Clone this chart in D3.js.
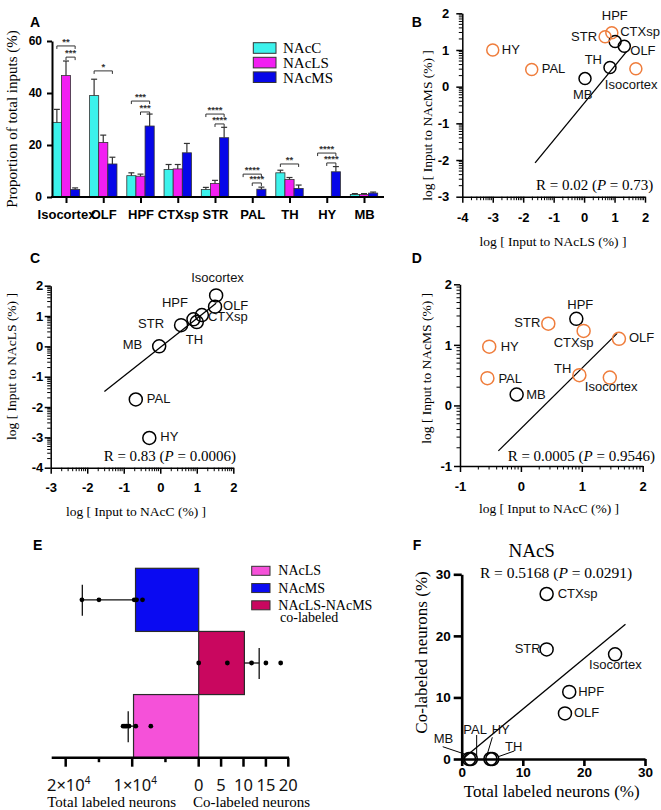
<!DOCTYPE html>
<html><head><meta charset="utf-8">
<script src="https://cdn.jsdelivr.net/npm/d3@7"></script>
<style>body{margin:0;background:#fff}</style>
</head><body>
<svg id="fig" width="661" height="810"></svg>
<script>
// ---------------- DATA ----------------
const regions = ["Isocortex","OLF","HPF","CTXsp","STR","PAL","TH","HY","MB"];
const seriesA = ["NAcC","NAcLS","NAcMS"];
const meanNAcC  = [28.7, 39.0, 8.2, 10.6, 2.9, 0.15, 9.3, 0.15, 1.0];
const errNAcC   = [5.0, 6.3, 1.1, 1.9, 0.8, 0, 1.0, 0, 0.3];
const meanNAcLS = [46.7, 21.0, 8.0, 10.8, 5.2, 0.05, 6.7, 0.05, 1.0];
const errNAcLS  = [5.6, 2.8, 0.8, 1.7, 1.2, 0, 0.8, 0, 0.3];
const meanNAcMS = [2.9, 12.7, 27.3, 17.0, 22.8, 3.0, 3.3, 9.7, 1.5];
const errNAcMS  = [0.6, 2.6, 4.6, 3.6, 4.0, 0.8, 1.3, 2.0, 0.4];

const sigRegion = ["Isocortex","Isocortex","OLF","HPF","HPF","STR","STR","PAL","PAL","TH","HY","HY"];
const sigFrom   = ["NAcC","NAcLS","NAcC","NAcC","NAcLS","NAcC","NAcLS","NAcC","NAcLS","NAcC","NAcC","NAcLS"];
const sigTo     = ["NAcMS","NAcMS","NAcMS","NAcMS","NAcMS","NAcMS","NAcMS","NAcMS","NAcMS","NAcMS","NAcMS","NAcMS"];
const sigLevel  = [58.1, 53.8, 48.5, 36.9, 32.7, 31.9, 28.1, 8.8, 5.4, 12.7, 16.9, 13.1];
const sigLabel  = ["**","***","*","***","***","****","****","****","****","**","****","****"];

// B: log NAcLS vs log NAcMS
const bLogLS = [1.70, 1.32, 0.91, 1.02, 0.69, -1.72, 0.85, -3.0, 0.03];
const bLogMS = [0.49, 1.10, 1.47, 1.23, 1.36, 0.47, 0.52, 1.0, 0.22];
const bOrange = [true, false, true, false, true, true, false, true, false];
const bFit = [[-1.61, -2.08], [1.40, 0.96]];
// C: log NAcC vs log NAcLS
const cLogC  = [1.53, 1.50, 0.91, 1.14, 0.57, -0.67, 1.0, -0.30, -0.03];
const cLogLS = [1.68, 1.31, 0.89, 1.03, 0.70, -1.75, 0.80, -3.02, 0.0];
const cFit = [[-1.53, -1.49], [1.53, 1.42]];
// D: log NAcC vs log NAcMS
const dLogC  = [1.46, 1.61, 0.91, 1.03, 0.45, -0.55, 0.96, -0.52, -0.07];
const dLogMS = [0.46, 1.10, 1.43, 1.23, 1.35, 0.45, 0.50, 0.97, 0.18];
const dOrange = [true, true, false, true, true, true, true, true, false];
const dFit = [[-0.37, -0.75], [1.58, 1.19]];

// E
const eGroups = ["NAcMS","co","NAcLS"];
const eMean = [9500, 10.2, 9800];
const eErrEnd = [17500, 13.5, 10600];
const eDotsMS = [17560, 15000, 9700, 9350, 8450];
const eDotsCo = [0, 6.4, 11.8, 15.0, 18.3];
const eDotsLS = [11370, 11100, 10860, 10470, 9460, 7200];

// F
const fTotal = [25.1, 16.9, 17.6, 13.9, 13.9, 1.5, 5.0, 4.7, 1.2];
const fCo    = [17.0, 7.4, 10.9, 26.8, 17.8, 0.0, 0.0, 0.0, 0.0];
const fFit = [[0.25, 0.1], [26.8, 21.9]];

// ---------------- LAYOUT / STYLE ----------------
const svg = d3.select("#fig");
const SANS = "'Liberation Sans', Arial, sans-serif";
const SERIF = "'Liberation Serif', 'Times New Roman', serif";
const ORANGE = "#EF7D3C";

function panelLabel(t, x, y){
  svg.append("text").attr("x",x).attr("y",y).attr("font-family",SANS)
    .attr("font-weight","bold").attr("font-size",14).text(t);
}
function rTextEnd(g, x, y, r, p, anchor){
  const t = g.append("text").attr("x",x).attr("y",y).attr("text-anchor",anchor||"end")
    .attr("font-family",SERIF).attr("font-size",15).attr("fill","#000");
  t.append("tspan").text("R = "+r+" (");
  t.append("tspan").attr("font-style","italic").text("P");
  t.append("tspan").text(" = "+p+")");
  return t;
}
function styleAxis(a, fs){
  a.select(".domain").attr("stroke","#000");
  a.selectAll(".tick line").attr("stroke","#000");
  a.selectAll("text").attr("font-family",SANS).attr("font-weight","bold")
    .attr("font-size",fs).attr("fill","#000");
}

// ---------------- PANEL A ----------------
panelLabel("A", 30, 27);
{
  const g = svg.append("g");
  const xA = d3.scalePoint().domain(regions).range([66, 364]);
  const xSub = d3.scaleBand().domain(seriesA).range([-13.7, 13.7]);
  const yA = d3.scaleLinear().domain([0,60]).range([197,41]);
  const colorA = {NAcC:"#3CF2EC", NAcLS:"#F21EF2", NAcMS:"#0606E8"};
  const meansA = {NAcC:meanNAcC, NAcLS:meanNAcLS, NAcMS:meanNAcMS};
  const errsA = {NAcC:errNAcC, NAcLS:errNAcLS, NAcMS:errNAcMS};
  const bw = xSub.bandwidth();
  const rows = [];
  regions.forEach((r,i)=>seriesA.forEach(s=>rows.push({r, s, v:meansA[s][i], e:errsA[s][i]})));
  g.selectAll("rect.bar").data(rows).join("rect").attr("class","bar")
    .attr("x",d=>xA(d.r)+xSub(d.s)).attr("width",bw)
    .attr("y",d=>yA(d.v)).attr("height",d=>yA(0)-yA(d.v))
    .attr("fill",d=>colorA[d.s]).attr("stroke","#333").attr("stroke-width",0.8);
  const er = rows.filter(d=>d.e>0);
  g.selectAll("line.ev").data(er).join("line").attr("class","ev")
    .attr("x1",d=>xA(d.r)+xSub(d.s)+bw/2).attr("x2",d=>xA(d.r)+xSub(d.s)+bw/2)
    .attr("y1",d=>yA(d.v)).attr("y2",d=>yA(d.v+d.e)).attr("stroke","#333").attr("stroke-width",1.2);
  g.selectAll("line.ec").data(er).join("line").attr("class","ec")
    .attr("x1",d=>xA(d.r)+xSub(d.s)+bw/2-3).attr("x2",d=>xA(d.r)+xSub(d.s)+bw/2+3)
    .attr("y1",d=>yA(d.v+d.e)).attr("y2",d=>yA(d.v+d.e)).attr("stroke","#333").attr("stroke-width",1.2);
  // axes
  const ay = g.append("g").attr("transform","translate(52,0)")
    .call(d3.axisLeft(yA).tickValues([0,20,40,60]).tickSize(5).tickSizeOuter(0).tickPadding(5));
  styleAxis(ay, 12); ay.select(".domain").attr("stroke-width",2); ay.selectAll(".tick line").attr("stroke-width",2);
  const ax = g.append("g").attr("transform","translate(0,197)")
    .call(d3.axisBottom(xA).tickSize(6).tickPadding(6.5));
  ax.select(".domain").remove();
  styleAxis(ax, 13); ax.selectAll(".tick line").attr("stroke-width",2);
  g.append("line").attr("x1",51).attr("x2",384).attr("y1",197).attr("y2",197).attr("stroke","#000").attr("stroke-width",2);
  // significance brackets
  const sig = sigRegion.map((r,i)=>({r, f:sigFrom[i], t:sigTo[i], v:sigLevel[i], lab:sigLabel[i]}));
  g.selectAll("path.sig").data(sig).join("path").attr("class","sig")
    .attr("d",d=>{const x1=xA(d.r)+xSub(d.f)+bw/2, x2=xA(d.r)+xSub(d.t)+bw/2, y=yA(d.v);
      return `M${x1},${y+3}V${y}H${x2}V${y+3}`;})
    .attr("fill","none").attr("stroke","#333").attr("stroke-width",1);
  g.selectAll("text.sig").data(sig).join("text").attr("class","sig")
    .attr("x",d=>(xA(d.r)+xSub(d.f)+xA(d.r)+xSub(d.t)+bw)/2).attr("y",d=>yA(d.v)-1)
    .attr("text-anchor","middle").attr("font-family",SANS).attr("font-weight","bold")
    .attr("font-size",9.5).attr("fill","#333").text(d=>d.lab);
  // legend
  const ly = d3.scalePoint().domain(seriesA).range([48, 77.2]);
  const lg = g.selectAll("g.leg").data(seriesA).join("g").attr("class","leg");
  lg.append("rect").attr("x",253.3).attr("y",d=>ly(d)-5.3).attr("width",22.7).attr("height",10.6)
    .attr("fill",d=>colorA[d]).attr("stroke","#333").attr("stroke-width",1);
  lg.append("text").attr("x",283).attr("y",d=>ly(d)+5.3).attr("font-family",SERIF).attr("font-size",15).text(d=>d);
  g.append("text").attr("transform","translate(16.5,119) rotate(-90)").attr("text-anchor","middle")
    .attr("font-family",SERIF).attr("font-size",15).text("Proportion of total inputs (%)");
}

// ---------------- generic log scatter ----------------
function drawScatter(cfg){
  const g = svg.append("g");
  const x = d3.scaleLinear().domain(cfg.xDom).range(cfg.xRange);
  const y = d3.scaleLinear().domain(cfg.yDom).range(cfg.yRange);
  const x0 = cfg.xRange[0], y0 = cfg.yRange[0];
  const fmt = d => String(d);
  const gx = g.append("g").attr("transform",`translate(0,${y0})`)
    .call(d3.axisBottom(x).tickValues(d3.range(cfg.xDom[0], cfg.xDom[1]+1)).tickFormat(fmt)
      .tickSize(6).tickSizeOuter(0).tickPadding(cfg.xPad));
  const gy = g.append("g").attr("transform",`translate(${x0},0)`)
    .call(d3.axisLeft(y).tickValues(d3.range(cfg.yDom[0], cfg.yDom[1]+1)).tickFormat(fmt)
      .tickSize(6).tickSizeOuter(0).tickPadding(cfg.yPad));
  [gx,gy].forEach(a=>{styleAxis(a,13); a.select(".domain").attr("stroke-width",1.5); a.selectAll(".tick line").attr("stroke-width",1.5);});
  const minX=[], minY=[];
  for(let k=cfg.xDom[0];k<cfg.xDom[1];k++) for(let m=2;m<=9;m++) minX.push(k+Math.log10(m));
  for(let k=cfg.yDom[0];k<cfg.yDom[1];k++) for(let m=2;m<=9;m++) minY.push(k+Math.log10(m));
  g.selectAll("line.mx").data(minX).join("line").attr("class","mx")
    .attr("x1",d=>x(d)).attr("x2",d=>x(d)).attr("y1",y0).attr("y2",y0+3.5).attr("stroke","#000").attr("stroke-width",1);
  g.selectAll("line.my").data(minY).join("line").attr("class","my")
    .attr("y1",d=>y(d)).attr("y2",d=>y(d)).attr("x1",x0).attr("x2",x0-3.5).attr("stroke","#000").attr("stroke-width",1);
  // fit line
  g.append("line").attr("x1",x(cfg.fit[0][0])).attr("y1",y(cfg.fit[0][1]))
    .attr("x2",x(cfg.fit[1][0])).attr("y2",y(cfg.fit[1][1])).attr("stroke","#000").attr("stroke-width",1.3);
  const pts = regions.map((r,i)=>({r, x:cfg.xs[i], y:cfg.ys[i], o:cfg.orange?cfg.orange[i]:false}));
  g.selectAll("circle").data(pts).join("circle").attr("cx",d=>x(d.x)).attr("cy",d=>y(d.y)).attr("r",cfg.r)
    .attr("fill","none").attr("stroke",d=>d.o?ORANGE:"#000").attr("stroke-width",1.5);
  g.selectAll("text.lab").data(pts).join("text").attr("class","lab")
    .attr("x",d=>x(d.x)+cfg.labels[d.r][0]).attr("y",d=>y(d.y)+cfg.labels[d.r][1])
    .attr("text-anchor",d=>cfg.labels[d.r][2]||"start")
    .attr("font-family",SANS).attr("font-size",13).attr("fill","#111").text(d=>d.r);
  rTextEnd(g, cfg.rPos[0], cfg.rPos[1], cfg.rVal, cfg.pVal);
  g.append("text").attr("x",cfg.xt[0]).attr("y",cfg.xt[1]).attr("text-anchor","middle")
    .attr("font-family",SERIF).attr("font-size",13.5).text(cfg.xTitle);
  g.append("text").attr("transform",`translate(${cfg.yt[0]},${cfg.yt[1]}) rotate(-90)`).attr("text-anchor","middle")
    .attr("font-family",SERIF).attr("font-size",13.5).text(cfg.yTitle);
}

panelLabel("B", 411.7, 27);
drawScatter({
  xDom:[-4,2], yDom:[-3,2], xRange:[462.3,645], yRange:[196.7,13.3], xPad:10, yPad:7, r:6,
  xs:bLogLS, ys:bLogMS, orange:bOrange, fit:bFit,
  labels:{Isocortex:[-31,20], OLF:[6,8.5], HPF:[-10,-13], CTXsp:[5,-6], STR:[-8,4.3,"end"],
          PAL:[10,4], TH:[-8,-4,"end"], HY:[9,4.5], MB:[-12,20]},
  rPos:[653.3,190], rVal:"0.02", pVal:"0.73",
  xTitle:"log [ Input to NAcLS (%) ]", xt:[553,246],
  yTitle:"log [ Input to NAcMS (%) ]", yt:[431.5,125.5]
});

panelLabel("C", 30, 263);
drawScatter({
  xDom:[-3,2], yDom:[-4,2], xRange:[50.7,233.3], yRange:[467.7,285.7], xPad:9, yPad:1.5, r:6.5,
  xs:cLogC, ys:cLogLS, fit:cFit,
  labels:{Isocortex:[-25,-13], OLF:[8,3], HPF:[-5.5,-12,"end"], CTXsp:[6,6], STR:[-17,2.6,"end"],
          PAL:[11,3.3], TH:[-11,22], HY:[11,3], MB:[-17,3,"end"]},
  rPos:[236,460.5], rVal:"0.83", pVal:"0.0006",
  xTitle:"log [ Input to NAcC (%) ]", xt:[136,516],
  yTitle:"log [ Input to NAcLS (%) ]", yt:[15.5,366.5]
});

panelLabel("D", 411.7, 263);
drawScatter({
  xDom:[-1,2], yDom:[-1,2], xRange:[460,642.7], yRange:[466,284.3], xPad:10, yPad:2, r:6.5,
  xs:dLogC, ys:dLogMS, orange:dOrange, fit:dFit,
  labels:{Isocortex:[-25,13.4], OLF:[10,3.5], HPF:[-9,-10], CTXsp:[-30,16], STR:[-8,3.6,"end"],
          PAL:[11,5], TH:[-8,-2.3,"end"], HY:[11.5,4.6], MB:[9.5,4]},
  rPos:[655,461], rVal:"0.0005", pVal:"0.9546",
  xTitle:"log [ Input to NAcC (%) ]", xt:[549,513.3],
  yTitle:"log [ Input to NAcMS (%) ]", yt:[431,368.3]
});

// ---------------- PANEL E ----------------
panelLabel("E", 33, 550);
{
  const g = svg.append("g");
  const zeroX = 198.7, axY = 757.7;
  const xL = d3.scaleLinear().domain([0,20000]).range([zeroX, 65.7]);
  const xR = d3.scaleLinear().domain([0,20]).range([zeroX, 288.3]);
  const yE = d3.scaleBand().domain(eGroups).range([568.3, axY]);
  const eColor = {NAcMS:"#0A0AF2", co:"#C9075F", NAcLS:"#F551D9"};
  const xOf = (grp,v)=> grp==="co" ? xR(v) : xL(v);
  // bars
  g.selectAll("rect.eb").data(eGroups).join("rect").attr("class","eb")
    .attr("x",(d,i)=>Math.min(zeroX, xOf(d,eMean[i]))).attr("width",(d,i)=>Math.abs(xOf(d,eMean[i])-zeroX))
    .attr("y",d=>yE(d)).attr("height",yE.bandwidth())
    .attr("fill",d=>eColor[d]).attr("stroke","#2a2a2a").attr("stroke-width",1.2);
  // error bars
  eGroups.forEach((d,i)=>{
    const cy = yE(d)+yE.bandwidth()/2;
    g.append("line").attr("x1",xOf(d,eMean[i])).attr("x2",xOf(d,eErrEnd[i])).attr("y1",cy).attr("y2",cy)
      .attr("stroke","#111").attr("stroke-width",1.3);
    g.append("line").attr("x1",xOf(d,eErrEnd[i])).attr("x2",xOf(d,eErrEnd[i])).attr("y1",cy-15).attr("y2",cy+16)
      .attr("stroke","#111").attr("stroke-width",1.3);
  });
  // dots
  const dots = [].concat(
    eDotsMS.map(v=>({g:"NAcMS",v})), eDotsCo.map(v=>({g:"co",v})), eDotsLS.map(v=>({g:"NAcLS",v})));
  g.selectAll("circle").data(dots).join("circle").attr("cx",d=>xOf(d.g,d.v))
    .attr("cy",d=>yE(d.g)+yE.bandwidth()/2).attr("r",2.4).attr("fill","#000");
  // axis
  g.append("line").attr("x1",51.7).attr("x2",289).attr("y1",axY).attr("y2",axY).attr("stroke","#000").attr("stroke-width",2.5);
  const lt = [0,5000,10000,15000,20000];
  g.selectAll("line.lt").data(lt).join("line").attr("class","lt").attr("x1",d=>xL(d)).attr("x2",d=>xL(d))
    .attr("y1",axY).attr("y2",d=>d%10000===0?axY+9:axY+4.5).attr("stroke","#000").attr("stroke-width",2.5);
  const rt = [5,10,15,20];
  g.selectAll("line.rt").data(rt).join("line").attr("class","rt").attr("x1",d=>xR(d)).attr("x2",d=>xR(d))
    .attr("y1",axY).attr("y2",axY+9).attr("stroke","#000").attr("stroke-width",2.5);
  const ETF = "'Noto Sans', 'DejaVu Sans', sans-serif";
  [20000,10000].forEach(v=>{
    const t = g.append("text").attr("x",xL(v)+3).attr("y",791).attr("text-anchor","middle")
      .attr("font-family",ETF).attr("font-size",16.5).attr("fill","#111");
    t.append("tspan").text((v/10000)+"×10");
    t.append("tspan").attr("dy",-7).attr("font-size",10).text("4");
  });
  g.selectAll("text.rl").data([0].concat(rt)).join("text").attr("class","rl")
    .attr("x",d=>xR(d)).attr("y",791).attr("text-anchor","middle")
    .attr("font-family",ETF).attr("font-size",16.5).attr("fill","#111").text(d=>d);
  g.append("text").attr("x",111.7).attr("y",806.5).attr("text-anchor","middle").attr("font-family",SERIF)
    .attr("font-size",15).text("Total labeled neurons");
  g.append("text").attr("x",251.5).attr("y",806.5).attr("text-anchor","middle").attr("font-family",SERIF)
    .attr("font-size",15).text("Co-labeled neurons");
  // legend
  const legE = [{k:"NAcLS",t:"NAcLS"},{k:"NAcMS",t:"NAcMS"},{k:"co",t:"NAcLS-NAcMS"}];
  const ly = d3.scalePoint().domain(legE.map(d=>d.k)).range([570.8, 605.3]);
  g.selectAll("rect.le").data(legE).join("rect").attr("class","le").attr("x",251.7).attr("y",d=>ly(d.k)-4.5)
    .attr("width",18.3).attr("height",9).attr("fill",d=>eColor[d.k]).attr("stroke","#333").attr("stroke-width",1);
  g.selectAll("text.le").data(legE).join("text").attr("class","le").attr("x",278.3).attr("y",d=>ly(d.k)+4.5)
    .attr("font-family",SERIF).attr("font-size",14).text(d=>d.t);
  g.append("text").attr("x",280).attr("y",622).attr("font-family",SERIF).attr("font-size",14).text("co-labeled");
}

// ---------------- PANEL F ----------------
panelLabel("F", 412.7, 550);
{
  const g = svg.append("g");
  const x = d3.scaleLinear().domain([0,30]).range([461.7,645]);
  const y = d3.scaleLinear().domain([0,30]).range([759,574.3]);
  const ax = g.append("g").attr("transform","translate(0,759)")
    .call(d3.axisBottom(x).tickValues([0,10,20,30]).tickSize(7).tickSizeOuter(0).tickPadding(1.5));
  const ay = g.append("g").attr("transform","translate(461.7,0)")
    .call(d3.axisLeft(y).tickValues([0,10,20,30]).tickSize(8).tickSizeOuter(0).tickPadding(3));
  [ax,ay].forEach(a=>{styleAxis(a,13.5); a.select(".domain").attr("stroke-width",2.6); a.selectAll(".tick line").attr("stroke-width",2.6);});
  g.append("line").attr("x1",x(fFit[0][0])).attr("y1",y(fFit[0][1])).attr("x2",x(fFit[1][0])).attr("y2",y(fFit[1][1]))
    .attr("stroke","#000").attr("stroke-width",1.3);
  const pts = regions.map((r,i)=>({r, x:fTotal[i], y:fCo[i]}));
  g.selectAll("circle").data(pts).join("circle").attr("cx",d=>x(d.x)).attr("cy",d=>y(d.y)).attr("r",6.5)
    .attr("fill","none").attr("stroke","#000").attr("stroke-width",1.5);
  const labF = {Isocortex:[-26,15], OLF:[9,3.5], HPF:[9,4], CTXsp:[11,4], STR:[-6,4,"end"],
                PAL:[-7.6,-25], TH:[12.7,-8], HY:[1.3,-25], MB:[-35.3,-15.7]};
  const leadF = {MB:[-26.3,-12.3,-4.6,-5], PAL:[5.8,-24,5.8,-2.3], HY:[1.9,-21.7,-3.1,-5], TH:[22,-8,6,-2.3]};
  g.selectAll("text.lab").data(pts).join("text").attr("class","lab")
    .attr("x",d=>x(d.x)+labF[d.r][0]).attr("y",d=>y(d.y)+labF[d.r][1]).attr("text-anchor",d=>labF[d.r][2]||"start")
    .attr("font-family",SANS).attr("font-size",13).attr("fill","#111").text(d=>d.r);
  g.selectAll("line.lead").data(pts.filter(d=>leadF[d.r])).join("line").attr("class","lead")
    .attr("x1",d=>x(d.x)+leadF[d.r][0]).attr("y1",d=>y(d.y)+leadF[d.r][1])
    .attr("x2",d=>x(d.x)+leadF[d.r][2]).attr("y2",d=>y(d.y)+leadF[d.r][3]).attr("stroke","#000").attr("stroke-width",1);
  g.append("text").attr("x",531.7).attr("y",556.7).attr("text-anchor","middle").attr("font-family",SERIF)
    .attr("font-size",19).text("NAcS");
  rTextEnd(g, 556, 577.5, "0.5168", "0.0291", "middle").attr("font-size",15.5);
  g.append("text").attr("x",551.7).attr("y",796.7).attr("text-anchor","middle").attr("font-family",SERIF)
    .attr("font-size",17).text("Total labeled neurons (%)");
  g.append("text").attr("transform","translate(426.5,652.5) rotate(-90)").attr("text-anchor","middle")
    .attr("font-family",SERIF).attr("font-size",17).text("Co-labeled neurons (%)");
}
</script>
</body></html>
